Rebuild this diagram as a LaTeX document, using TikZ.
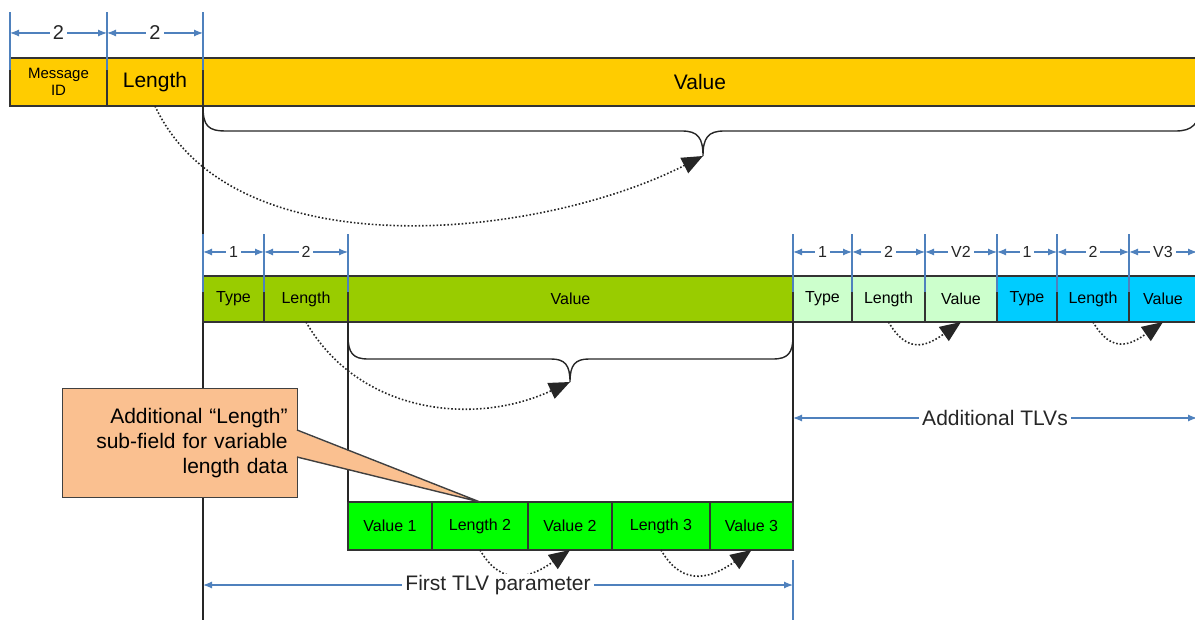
\documentclass[tikz,border=0pt]{standalone}
\usepackage{fontspec}
\setmainfont{Liberation Sans}
\usetikzlibrary{arrows.meta}
\definecolor{msgyellow}{HTML}{FFCC00}
\definecolor{tlvgreen}{HTML}{99CC00}
\definecolor{tlvlight}{HTML}{CCFFCC}
\definecolor{tlvcyan}{HTML}{00CCFF}
\definecolor{subgreen}{HTML}{00FF00}
\definecolor{notefill}{HTML}{FAC090}
\definecolor{dimblue}{HTML}{4F81BD}
\begin{document}
\begin{tikzpicture}[x=0.5pt, y=0.5pt,
    cell/.style={draw=black!80, line width=0.8pt, minimum width=#1, minimum height=24pt,
      inner sep=0pt, outer sep=0pt, anchor=north west, font=\fontsize{8}{9}\selectfont},
    frame/.style={line width=0.7pt, black!85},
    dimtick/.style={draw=dimblue, line width=0.6pt},
    dim/.style={draw=dimblue, line width=0.6pt,
      {Latex[length=4.5pt,width=3.5pt]}-{Latex[length=4.5pt,width=3.5pt]}},
    dimlabel/.style={fill=white, inner xsep=1.5pt, inner ysep=0.5pt, text=black!85},
    follows/.style={densely dotted, line width=0.8pt, black!85, -{Triangle[length=10.5pt,width=8.5pt]}}]

\useasboundingbox (0,0) rectangle (1195,-620);
\clip (0,0) rectangle (1195,-620);
\coordinate (floor) at (0,-620);

% message header
\node[cell=48.5pt, fill=msgyellow, align=center, font=\fontsize{7.5}{8.5}\selectfont] (msgid) at (10,-58) {Message\\ID};
\node[cell=48pt, fill=msgyellow, font=\fontsize{10.5}{12}\selectfont] (msglen) at (msgid.north east) {Length};
\node[cell=497pt, fill=msgyellow, font=\fontsize{10.5}{12}\selectfont] (msgval) at (msglen.north east) {Value};

\foreach \c in {msgid,msglen,msgval}
    \draw[dimtick] ([yshift=-6pt]\c.north west) -- ++(0,58);
\draw[dim] ([yshift=12.5pt]msgid.north west) -- node[dimlabel, font=\fontsize{10}{12}\selectfont] {2} ([yshift=12.5pt]msglen.north west);
\draw[dim] ([yshift=12.5pt]msglen.north west) -- node[dimlabel, font=\fontsize{10}{12}\selectfont] {2} ([yshift=12.5pt]msgval.north west);

\draw[frame] (msgval.south west) -- (msgval.south west |- floor);

% brace over the message value
\draw[frame] (203,-106) .. controls (203,-126) and (208,-131) .. (226,-131) -- (682,-131)
    .. controls (698,-131) and (703,-138) .. (703,-156) coordinate (msgtip)
    .. controls (703,-138) and (708,-131) .. (724,-131) -- (1176,-131)
    .. controls (1192,-131) and (1199,-124) .. (1201,-106);
\draw[follows] (msglen.south) to[out=-65, in=207, looseness=0.85] (msgtip);

% TLV row
\node[cell=30.5pt, minimum height=23pt, fill=tlvgreen] (type1) at (203,-276) {Type};
\node[cell=42pt, minimum height=23pt, fill=tlvgreen] (len1) at (type1.north east) {Length};
\node[cell=222.5pt, minimum height=23pt, fill=tlvgreen] (val1) at (len1.north east) {Value};
\node[cell=29.5pt, minimum height=23pt, fill=tlvlight] (type2) at (val1.north east) {Type};
\node[cell=36.5pt, minimum height=23pt, fill=tlvlight] (len2) at (type2.north east) {Length};
\node[cell=36pt, minimum height=23pt, fill=tlvlight] (val2) at (len2.north east) {Value};
\node[cell=30pt, minimum height=23pt, fill=tlvcyan] (type3) at (val2.north east) {Type};
\node[cell=36pt, minimum height=23pt, fill=tlvcyan] (len3) at (type3.north east) {Length};
\node[cell=34pt, minimum height=23pt, fill=tlvcyan] (val3) at (len3.north east) {Value};
\coordinate (edge3) at ([yshift=12pt]val3.north east);

\foreach \c in {type1,len1,val1,type2,len2,val2,type3,len3,val3}
    \draw[dimtick] ([yshift=-8pt]\c.north west) -- ++(0,58);
\foreach \a/\b/\t in {type1/len1/1, len1/val1/2, type2/len2/1, len2/val2/2, val2/type3/V2, type3/len3/1, len3/val3/2}
    \draw[dim] ([yshift=12pt]\a.north west) -- node[dimlabel, font=\fontsize{8}{9}\selectfont] {\t} ([yshift=12pt]\b.north west);
\draw[dim] ([yshift=12pt]val3.north west) -- node[dimlabel, font=\fontsize{8}{9}\selectfont] {V3} (edge3);

\draw[follows] (len2.south) to[out=-60, in=215, looseness=1.4] (val2.south);
\draw[follows] (len3.south) to[out=-60, in=215, looseness=1.4] (val3.south);

% brace over the first value
\draw[frame] (348,-322) -- (348,-336) .. controls (348,-353) and (353,-359) .. (368,-359) -- (551,-359)
    .. controls (565,-359) and (570,-365) .. (570,-382) coordinate (valtip)
    .. controls (570,-365) and (575,-359) .. (589,-359) -- (773,-359)
    .. controls (788,-359) and (793,-353) .. (793,-336) -- (793,-322);
\draw[follows] (len1.south) to[out=-60, in=205] (valtip);

% sub-fields of the first value
\node[cell=42pt, fill=subgreen] (sub1) at (348,-502) {Value 1};
\node[cell=48pt, fill=subgreen] (sub2) at (sub1.north east) {Length 2};
\node[cell=42pt, fill=subgreen] (sub3) at (sub2.north east) {Value 2};
\node[cell=49pt, fill=subgreen] (sub4) at (sub3.north east) {Length 3};
\node[cell=41.5pt, fill=subgreen] (sub5) at (sub4.north east) {Value 3};

\draw[frame] (val1.south west) -- (sub1.north west);
\draw[frame] (val1.south east) -- (sub5.north east);

\draw[follows] (sub2.south) to[out=-60, in=215, looseness=1.3] (sub3.south);
\draw[follows] (sub4.south) to[out=-60, in=215, looseness=1.3] (sub5.south);

% callout
\node[draw=black!75, line width=0.7pt, fill=notefill, minimum width=117.5pt, minimum height=54.5pt,
    anchor=north west, text width=107.5pt, inner sep=5pt, align=right,
    font=\fontsize{10.5}{12.5}\selectfont] (note) at (62,-388)
    {Additional ``Length''\\ sub-field for variable\\ length data};
\fill[notefill] (295,-430) -- (sub2.north) -- (295,-457) -- cycle;
\draw[black!75, line width=0.7pt] (297,-430) -- (sub2.north) -- (297,-457);

% spans
\coordinate (addL) at (793,-418);
\coordinate (addR) at (1197,-418);
\draw[dim] (addL) -- node[dimlabel, font=\fontsize{10.5}{12}\selectfont] {Additional TLVs} (addR);

\coordinate (firstL) at (203,-585);
\coordinate (firstR) at (793,-585);
\draw[dimtick] (793,-560) -- (793 ,-620);
\draw[dim] (firstL) -- node[dimlabel, font=\fontsize{10.5}{12}\selectfont] {First TLV parameter} (firstR);

\end{tikzpicture}
\end{document}
